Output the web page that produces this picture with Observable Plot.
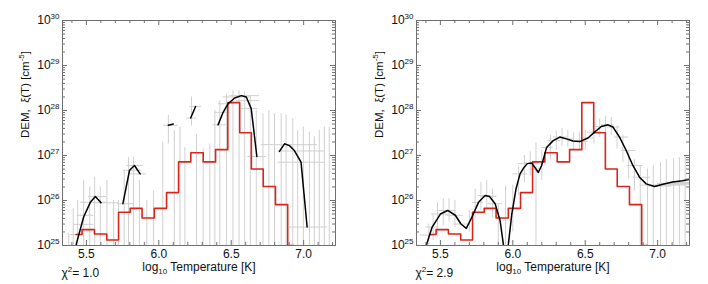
<!DOCTYPE html>
<html><head><meta charset="utf-8">
<script src="https://cdn.jsdelivr.net/npm/d3@7"></script>
<script src="https://cdn.jsdelivr.net/npm/@observablehq/plot@0.6"></script>
<style>
body{margin:0;background:#fff;}
#wrap{display:flex;width:708px;height:284px;overflow:hidden;}
</style></head><body><div id="wrap"></div>
<script>
// ---- shared: true DEM histogram (red), log10 T bin centres and values
const redT = [5.428,5.512,5.599,5.682,5.762,5.843,5.926,6.012,6.095,6.178,6.264,6.349,6.435,6.518,6.599,6.679,6.763,6.848,6.932];
const redV = [1.75e25,2.25e25,1.8e25,1.33e25,5.5e25,6.7e25,4.1e25,6.7e25,1.5e26,7.2e26,1.15e27,7.2e26,1.35e27,1.5e28,3.2e27,5e26,2.05e26,8.1e25,1.0e25];

// ---- left panel: regularised DEM segments (black)
const L_seg = [1,1,1,1,1,1, 2,2,2,2, 3,3, 4,4, 5,5,5,5,5,5,5,5, 6,6,6,6,6,6];
const L_T   = [5.425,5.431,5.481,5.527,5.562,5.601, 5.752,5.798,5.832,5.871, 6.066,6.100, 6.220,6.254, 6.409,6.444,6.478,6.524,6.570,6.604,6.638,6.677, 6.833,6.868,6.902,6.936,6.982,7.024];
const L_V   = [8e24,1.1e25,4.3e25,9.1e25,1.23e26,8.9e25, 8.5e25,4.7e26,6.0e26,3.9e26, 4.7e27,5.0e27, 6.8e27,1.23e28, 4.8e27,9.1e27,1.41e28,1.9e28,2.14e28,2.0e28,1.1e28,9.5e26, 1.23e27,1.82e27,1.66e27,1.29e27,7.1e26,2.57e25];
// left panel error bars: vertical (T, low, high) and horizontal (value, T1, T2)
const L_vT  = [5.378,5.409,5.440,5.481,5.523,5.557,5.596,5.642,5.688,5.722,5.761,5.791,5.825,5.866,5.917,5.963,6.027,6.066,6.107,6.146,6.180,6.226,6.261,6.306,6.352,6.387,6.421,6.467,6.512,6.554,6.593,6.632,6.673,6.719,6.760,6.799,6.845,6.879,6.925,6.959,6.998,7.040,7.074,7.108,7.143,7.177];
const L_vLo = [1e24,1e24,1e24,1e24,1e24,1e24,1e24,1e24,1e24,1e24,1e24,1e24,1e24,1e24,1e24,1e24,1e24,1.8e27,1e24,1e24,1e24,4.5e27,1e24,1e24,1e24,1e24,1e24,1e24,1e24,1e24,1e24,1e24,1e24,1e24,1e24,1e24,1e24,1e24,1e24,1e24,1e24,1e24,1e24,1e24,1e24,1e24];
const L_vHi = [1.9e25,6.6e25,1e26,2.8e26,2e26,3.3e26,2e26,2.8e26,1e26,1e26,4.7e26,9.1e26,9.1e26,2.8e26,1e26,1.6e26,2e27,7.8e27,3.6e27,4.3e27,1.5e27,2e28,3e27,1.4e27,1.8e27,1e28,1.66e28,2.3e28,2.75e28,2.75e28,2.6e28,2e28,1e28,8.5e27,1e28,8.5e27,8.5e27,7.8e27,6.5e27,3.6e27,4.3e27,3.3e27,2.6e27,3.6e27,4.3e27,4.3e27];
const L_hV  = [1.75e25,2.95e25,4.7e25,9.1e25,1.23e26,8.9e25,8.5e25,4.7e26,6.0e26,3.9e26,4.7e27,6.8e27,1.23e28,4.8e27,9.1e27,1.41e28,2e28,2.14e28,1.66e28,1.1e28,9.5e26,1.74e27,1.26e27,7.1e26,2.57e25];
const L_hT1 = [5.390,5.413,5.436,5.459,5.516,5.550,5.715,5.756,5.780,5.802,6.031,6.192,6.215,6.375,6.387,6.410,6.444,6.490,6.536,6.570,6.615,6.708,6.822,6.822,6.902];
const L_hT2 = [5.470,5.550,5.550,5.642,5.642,5.722,5.825,5.883,5.894,5.917,6.134,6.261,6.295,6.467,6.490,6.524,6.639,6.696,6.696,6.685,6.742,7.097,7.143,7.143,7.165];

// ---- right panel: regularised DEM (black), continuous
const R_T = [5.390,5.404,5.443,5.500,5.550,5.603,5.642,5.679,5.718,5.763,5.809,5.839,5.878,5.912,5.935,5.952,5.969,5.993,6.022,6.050,6.073,6.100,6.130,6.160,6.176,6.199,6.233,6.279,6.325,6.371,6.416,6.462,6.519,6.565,6.611,6.657,6.691,6.737,6.783,6.829,6.875,6.921,6.979,7.036,7.103,7.172,7.218,7.240];
const R_V = [4e24,1.04e25,2.57e25,5.0e25,6.0e25,4.7e25,3.0e25,2.4e25,4.3e25,9.1e25,1.29e26,1.23e26,8.5e25,3.6e25,1.05e25,1e23,1.05e25,5.0e25,1.8e26,3.9e26,5.2e26,6.6e26,6.8e26,5.0e26,4.2e26,6.0e26,1.5e27,2.14e27,2.57e27,2.34e27,2.1e27,2.04e27,2.45e27,3.3e27,4.4e27,4.8e27,4.3e27,2.57e27,1.29e27,6.0e26,3.3e26,2.34e26,2.04e26,2.3e26,2.57e26,2.75e26,2.95e26,3.0e26];
// right panel error bars
const R_vT  = [5.420,5.450,5.480,5.520,5.560,5.600,5.700,5.740,5.780,5.820,5.860,5.900,5.950,6.000,6.040,6.080,6.120,6.160,6.200,6.260,6.300,6.340,6.380,6.420,6.460,6.500,6.560,6.600,6.640,6.680,6.720,6.760,6.800,6.840,6.880,6.930,6.970,7.020,7.060,7.110,7.150,7.190,7.240];
const R_vLo = [1e24,1.3e25,1.8e25,2.8e25,3.3e25,2.5e25,2e25,4e25,6e25,6e25,4e25,1e24,1e24,2e25,1.3e26,2.5e26,3.5e26,1e24,2.8e26,8e26,1.3e27,1.6e27,1.5e27,1.3e27,1.3e27,1.3e27,1.8e27,2.5e27,3e27,2.8e27,1.4e27,7e26,3e26,1.6e26,1e24,1e24,1e24,1e24,1e24,1e24,1e24,1e24,1e24];
const R_vHi = [3e25,5e25,9e25,1.1e26,1.1e26,1e26,6e25,1.8e26,2.5e26,2.8e26,1.8e26,8e25,2.1e26,2.2e26,5.5e26,1e27,1.2e27,1.9e27,1.3e27,2.8e27,3.5e27,4e27,3.6e27,3.2e27,3.2e27,3.6e27,5.5e27,6.5e27,7.5e27,7e27,4.5e27,2.8e27,1.3e27,8e26,6e26,5e26,6e26,7e26,8e26,8.5e26,9e26,9.5e26,1e27];
const R_hV  = [1.7e25,2.57e25,5.0e25,6.0e25,4.7e25,3.0e25,9.1e25,1.29e26,1.23e26,8.5e25,3.9e26,6.6e26,6.8e26,5.0e26,1.5e27,2.14e27,2.57e27,2.34e27,2.1e27,2.04e27,2.45e27,3.3e27,4.4e27,4.8e27,4.3e27,2.57e27,1.29e27,6.0e26,3.3e26,2.2e26,2.1e26,2.2e26,2.3e26,2.4e26,2.5e26];
const R_hT1 = [5.360,5.400,5.440,5.490,5.540,5.590,5.720,5.760,5.790,5.830,6.000,6.040,6.080,6.120,6.200,6.240,6.280,6.330,6.380,6.420,6.470,6.520,6.570,6.610,6.650,6.700,6.750,6.790,6.830,6.880,6.930,6.990,7.050,7.000,7.080];
const R_hT2 = [5.450,5.490,5.560,5.610,5.660,5.700,5.800,5.850,5.890,5.930,6.100,6.150,6.180,6.210,6.280,6.330,6.380,6.420,6.480,6.520,6.560,6.610,6.650,6.700,6.740,6.800,6.850,6.900,6.950,7.000,7.100,7.200,7.250,7.250,7.250];

const xMajor = [5.5,6.0,6.5,7.0];
const xMinor = [5.4,5.6,5.7,5.8,5.9,6.1,6.2,6.3,6.4,6.6,6.7,6.8,6.9,7.1,7.2];
const yMajor = [1e25,1e26,1e27,1e28,1e29,1e30];
const yMinor = yMajor.slice(0,5).flatMap(d => [2,3,4,5,6,7,8,9].map(k => k*d));
const chiLabels = ["1.0","2.9"];

const W = 354, H = 284, ML = 62, MR = 19, MT = 20, MB = 39;
const PW = W - ML - MR, PH = H - MT - MB;
const RED = "#d8261c", GRAY = "#d0d0d0", AX = "#707070";
const FONT = "Liberation Sans, Arial, Helvetica, sans-serif";

function zip(keys, arrs){ return arrs[0].map((_, i) => Object.fromEntries(keys.map((k, j) => [k, arrs[j][i]]))); }

function panel(black, vb, hb, chi){
  const red = zip(["t","v"], [redT, redV]);
  const svg = Plot.plot({
    width: W, height: H, marginLeft: ML, marginRight: MR, marginTop: MT, marginBottom: MB,
    x: {domain: [5.335, 7.22], axis: null},
    y: {type: "log", domain: [1e25, 1e30], axis: null},
    style: {fontFamily: FONT, fontSize: "12px", background: "white", color: "#111", overflow: "visible"},
    marks: [
      Plot.ruleX(vb, {x: "t", y1: "lo", y2: "hi", stroke: GRAY, strokeWidth: 1, clip: true}),
      Plot.ruleY(hb, {y: "v", x1: "t1", x2: "t2", stroke: GRAY, strokeWidth: 1, clip: true}),
      Plot.line(red, {x: "t", y: "v", curve: "step", stroke: RED, strokeWidth: 1.6, clip: true}),
      Plot.line(black, {x: "t", y: "v", z: "seg", stroke: "black", strokeWidth: 1.5, clip: true}),
      Plot.frame({stroke: AX, strokeWidth: 1}),
      // inward ticks: bottom/top
      Plot.ruleX(xMajor, {x: d => d, insetTop: PH - 5, stroke: AX}),
      Plot.ruleX(xMinor, {x: d => d, insetTop: PH - 3, stroke: AX}),
      Plot.ruleX(xMajor, {x: d => d, insetBottom: PH - 5, stroke: AX}),
      Plot.ruleX(xMinor, {x: d => d, insetBottom: PH - 3, stroke: AX}),
      // inward ticks: left/right
      Plot.ruleY(yMajor, {y: d => d, insetRight: PW - 5, stroke: AX}),
      Plot.ruleY(yMinor, {y: d => d, insetRight: PW - 3, stroke: AX}),
      Plot.ruleY(yMajor, {y: d => d, insetLeft: PW - 5, stroke: AX}),
      Plot.ruleY(yMinor, {y: d => d, insetLeft: PW - 3, stroke: AX}),
      Plot.axisX(xMajor, {tickSize: 0, tickPadding: 4, tickFormat: d => d.toFixed(1), fontSize: 12, color: "#111"}),
      Plot.axisY(yMajor, {tickSize: 0, tickPadding: 3, tickFormat: d => "10^{" + Math.round(Math.log10(d)) + "}", fontSize: 12, label: null}),
      Plot.text(["log_{10} Temperature [K]"], {frameAnchor: "bottom", dy: 22, lineAnchor: "middle", fontSize: 12}),
      Plot.text(["DEM,  ξ(T) [cm^{-5}]"], {frameAnchor: "left", dx: -37, dy: 5, rotate: -90, lineAnchor: "middle", fontSize: 11.5}),
      Plot.text(["χ^{2}= " + chi], {frameAnchor: "bottom-left", dx: -1, dy: 28, textAnchor: "start", lineAnchor: "middle", fontSize: 12})
    ]
  });
  richify(svg);
  return svg;
}

function richify(svg){
  const NS = "http://www.w3.org/2000/svg";
  svg.querySelectorAll("text").forEach(t => {
    const s = t.textContent;
    if (!/[\^_]\{/.test(s)) return;
    while (t.firstChild) t.removeChild(t.firstChild);
    const re = /([\^_])\{([^}]*)\}/g;
    let last = 0, m, shift = 0;
    const add = (txt, dy, size) => {
      if (!txt) return;
      const ts = document.createElementNS(NS, "tspan");
      ts.textContent = txt;
      if (dy) ts.setAttribute("dy", dy);
      if (size) ts.setAttribute("font-size", size);
      t.appendChild(ts);
    };
    while ((m = re.exec(s))) {
      add(s.slice(last, m.index), shift ? -shift : 0, null); shift = 0;
      const d = m[1] === "^" ? -5 : 3;
      add(m[2], d, 8); shift = d;
      last = re.lastIndex;
    }
    add(s.slice(last), shift ? -shift : 0, null);
  });
}

const wrap = document.getElementById("wrap");
wrap.appendChild(panel(
  zip(["seg","t","v"], [L_seg, L_T, L_V]),
  zip(["t","lo","hi"], [L_vT, L_vLo, L_vHi]),
  zip(["v","t1","t2"], [L_hV, L_hT1, L_hT2]),
  chiLabels[0]));
wrap.appendChild(panel(
  zip(["t","v"], [R_T, R_V]).map(d => ({...d, seg: 1})),
  zip(["t","lo","hi"], [R_vT, R_vLo, R_vHi]),
  zip(["v","t1","t2"], [R_hV, R_hT1, R_hT2]),
  chiLabels[1]));
</script></body></html>
